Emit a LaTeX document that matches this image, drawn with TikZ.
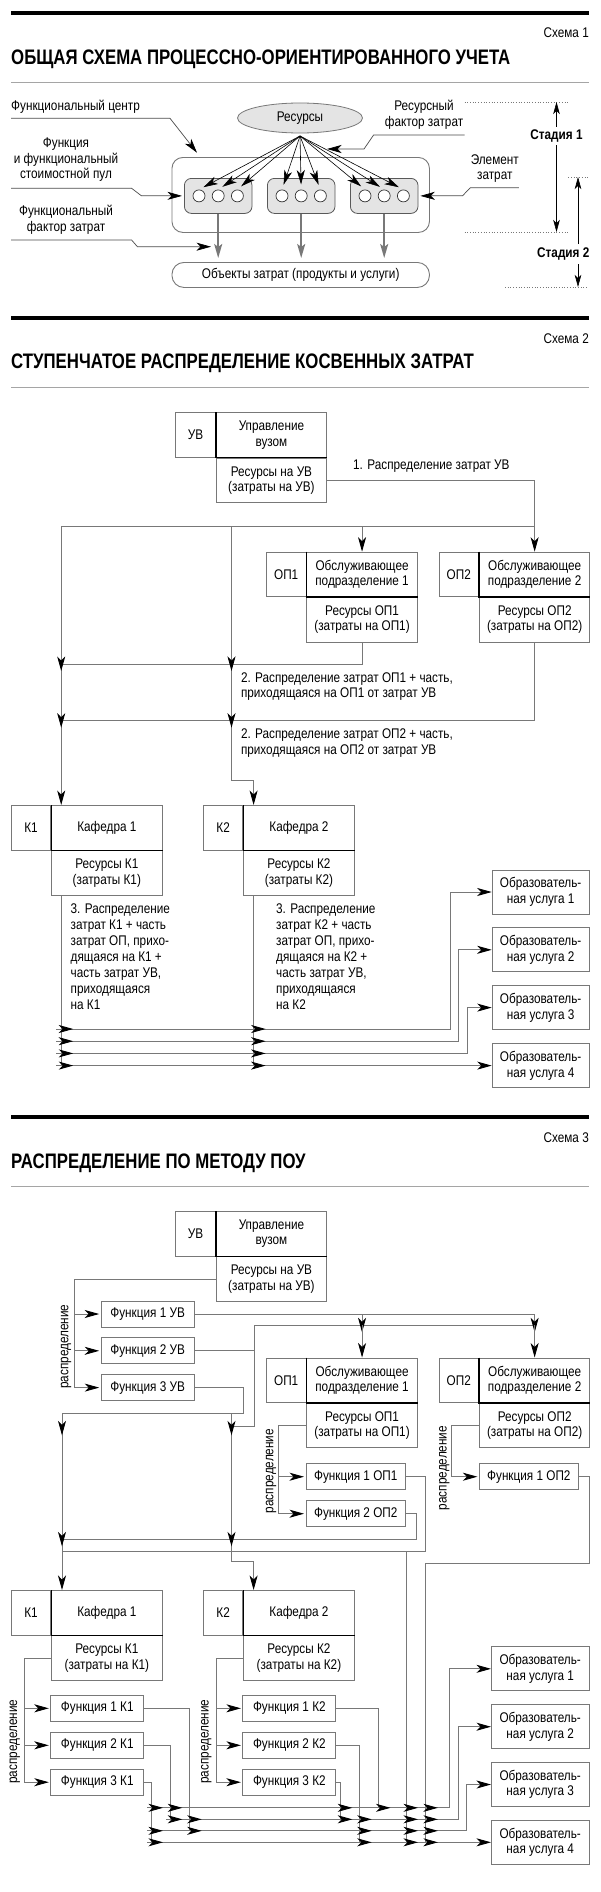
\documentclass[tikz,border=0pt]{standalone}
\usepackage{fontspec}
\setmainfont[FakeStretch=0.84]{Liberation Sans}
\newfontfamily\ttlfont[FakeStretch=0.8]{Liberation Sans}
\usetikzlibrary{positioning,arrows.meta,calc,shapes.geometric}
\definecolor{lngray}{RGB}{120,120,120}
\definecolor{poolgray}{RGB}{228,228,228}
\definecolor{rulegray}{RGB}{165,165,165}
\tikzset{
  txt/.style={inner sep=0pt, font=\fontsize{14}{15.5}\selectfont},
  ttl/.style={inner sep=0pt, anchor=west, font=\ttlfont\bfseries\fontsize{21}{24}\selectfont},
  cell/.style={draw=lngray, line width=0.9pt, inner sep=0pt, align=center, font=\fontsize{14}{15.5}\selectfont},
  code/.style={cell, minimum width=39.5pt, minimum height=44.5pt, anchor=north west},
  unit/.style={cell, minimum width=110.4pt, minimum height=44.5pt},
  func/.style={cell, minimum width=93pt, minimum height=26pt, anchor=west},
  serv/.style={cell, minimum width=97pt, minimum height=44pt, anchor=west},
  sep/.style={line width=1.4pt, black},
  wire/.style={draw=lngray, line width=0.9pt},
  arr/.style={wire, -{Stealth[length=14.5pt, width=8pt, inset=4pt, color=black]}},
  rot/.style={txt, rotate=90},
  pool/.style={draw=black!65, fill=poolgray, line width=0.8pt, rounded corners=7pt, minimum width=67.6pt, minimum height=35pt, inner sep=0pt},
  elem/.style={circle, draw=black!80, fill=white, line width=0.7pt, minimum size=12pt, inner sep=0pt},
  barr/.style={-{Stealth[length=14.5pt, width=8pt, inset=4pt]}, line width=0.6pt, black, shorten >=5pt},
  garr/.style={-{Stealth[length=14pt, width=8pt, inset=3pt]}, line width=1.8pt, lngray, shorten >=4pt},
  lead/.style={-{Stealth[length=14.5pt, width=8pt, inset=4pt, color=black]}, line width=0.7pt, draw=black!70},
  stg/.style={-{Stealth[length=12pt, width=6.5pt, inset=3pt]}, line width=0.6pt, black},
  dotln/.style={dotted, line width=0.7pt, lngray},
  hrule/.style={line width=4pt, black},
  srule/.style={line width=0.8pt, rulegray}
}

\begin{document}
\begin{tikzpicture}[x=1pt, y=-1pt]
    \fill[white] (0,0) rectangle (600,1892);
    \useasboundingbox (0,0) rectangle (600,1892);

    % ---------- scheme 1
    \draw[hrule] (11,13.5) -- (589,13.5);
    \node[txt, anchor=east] (sch1) at (589,33) {Схема 1};
    \node[ttl] (ttl1) at (11,59) {ОБЩАЯ СХЕМА ПРОЦЕССНО-ОРИЕНТИРОВАННОГО УЧЕТА};
    \draw[srule] (11,82) -- (589,82);

    \node[ellipse, draw=lngray, fill=poolgray, line width=0.8pt, minimum width=125pt, minimum height=30pt, txt] (res) at (300,118) {Ресурсы};
    \node[draw=lngray, line width=0.9pt, rounded corners=11pt, minimum width=257.5pt, minimum height=75pt, anchor=north west] (fc) at (171.5,157) {};
    \node[pool, anchor=north west] (p1) at (184,178) {};
    \node[pool, right=14.6pt of p1] (p2) {};
    \node[pool, right=14.6pt of p2] (p3) {};
    \foreach \p in {p1,p2,p3} {
      \node[elem] (\p b) at (\p) {};
      \node[elem, left=6.5pt of \p b] (\p a) {};
      \node[elem, right=6.5pt of \p b] (\p c) {};
    }
    \node[draw=lngray, line width=0.9pt, rounded corners=12pt, minimum width=257.5pt, minimum height=25pt, anchor=north west, txt] (obj) at (171.5,262) {Объекты затрат (продукты и услуги)};

    \coordinate (src) at (300,136);
    \foreach \p in {p1,p2,p3}
      \foreach \q in {a,b,c}
        \draw[barr] (src) -- (\p\q.north);
    \foreach \p in {p1,p2,p3}
      \draw[garr] (\p b |- \p.south) -- (\p b |- obj.north);

    \node[txt, anchor=west] (lfc) at (11,107) {Функциональный центр};
    \node[txt, align=center] (lfp) at (66,160) {Функция\\и функциональный\\стоимостной пул};
    \node[txt, align=center] (lff) at (66,220) {Функциональный\\фактор затрат};
    \node[txt, align=center] (lrf) at (424,115) {Ресурсный\\фактор затрат};
    \node[txt, align=center] (lel) at (494.8,168.5) {Элемент\\затрат};

    \coordinate (a1) at (11,118.3);
    \coordinate (a2) at (11,188.3);
    \coordinate (a3) at (11,240);
    \coordinate (a4) at (464.6,135);
    \coordinate (a5) at (518.8,187.7);
    \draw[lead] (a1) -- ++(159,0) -- ++(27,34.4);
    \draw[lead, shorten >=2pt] (a2) -- ++(120.6,0) -- ++(9.7,7.4) -- (p1.west);
    \draw[lead] (a3) -- ++(120.6,0) -- ++(5.8,6.7) -- ++(73.6,0);
    \draw[lead] (a4) -- ++(-91,0) -- ++(-9.6,14) -- ++(-37,0);
    \draw[lead, shorten >=2pt] (a5) -- ++(-48.4,0) -- ++(-7.8,8) -- (p3.east);

    \coordinate (d1) at (464.6,102);
    \coordinate (d2) at (464.6,232);
    \coordinate (d3) at (568.3,177);
    \coordinate (d4) at (505,287);
    \draw[dotln] (d1) -- ++(103.7,0);
    \draw[dotln] (d2) -- ++(103.7,0);
    \draw[dotln] (d3) -- ++(20.2,0);
    \draw[dotln] (d4) -- ++(83.5,0);
    \node[txt, font=\bfseries\fontsize{14}{15}\selectfont] (st1) at (556.5,136) {Стадия 1};
    \node[txt, font=\bfseries\fontsize{14}{15}\selectfont] (st2) at (563.3,254) {Стадия 2};
    \draw[stg, shorten <=3pt] (st1.north) -- (st1.north |- d1);
    \draw[stg, shorten <=3pt] (st1.south) -- (st1.south |- d2);
    \coordinate (s2x) at (578,254);
    \draw[stg] ($(s2x)+(0,-10)$) -- (s2x |- d3);
    \draw[stg] ($(s2x)+(0,10)$) -- (s2x |- d4);

    % ---------- scheme 2
    \draw[hrule] (11,318.3) -- (589,318.3);
    \node[txt, anchor=east] (sch2) at (589,338.3) {Схема 2};
    \node[ttl] (ttl2) at (11,363.3) {СТУПЕНЧАТОЕ РАСПРЕДЕЛЕНИЕ КОСВЕННЫХ ЗАТРАТ};
    \draw[srule] (11,387.3) -- (589,387.3);

    \node[code] (uv) at (175.4,412.3) {УВ};
    \node[unit, right=0pt of uv] (uvn) {Управление\\вузом};
    \node[unit, below=0pt of uvn] (uvr) {Ресурсы на УВ\\(затраты на УВ)};
    \node[code] (op1) at (266,551.7) {ОП1};
    \node[unit, right=0pt of op1] (op1n) {Обслуживающее\\подразделение 1};
    \node[unit, below=0pt of op1n] (op1r) {Ресурсы ОП1\\(затраты на ОП1)};
    \node[code] (op2) at (438.6,551.7) {ОП2};
    \node[unit, right=0pt of op2] (op2n) {Обслуживающее\\подразделение 2};
    \node[unit, below=0pt of op2n] (op2r) {Ресурсы ОП2\\(затраты на ОП2)};
    \node[code] (k1) at (10.8,805) {К1};
    \node[unit, right=0pt of k1] (k1n) {Кафедра 1};
    \node[unit, below=0pt of k1n] (k1r) {Ресурсы К1\\(затраты К1)};
    \node[code] (k2) at (202.9,805) {К2};
    \node[unit, right=0pt of k2] (k2n) {Кафедра 2};
    \node[unit, below=0pt of k2n] (k2r) {Ресурсы К2\\(затраты К2)};
    \foreach \n in {uvn,op1n,op2n,k1n,k2n}
      \draw[sep] (\n.north west) -- (\n.south west) -- (\n.south east);

    \draw[arr] (uvr.east) -| (op2n.north);
    \node[txt, anchor=west] (l1) at (353,465.7) {1. Распределение затрат УВ};
    \coordinate (h1) at (61.2,526.7);
    \coordinate (v2) at (231.5,526.7);
    \coordinate (h2) at (61.2,664);
    \coordinate (h3) at (61.2,720.7);
    \coordinate (k2j) at (253.6,780);
    \draw[wire] (h1) -- (h1 -| op2n.north);
    \draw[arr] (h1 -| op1n.north) -- (op1n.north);
    \draw[wire] (op1r.south) |- (h2);
    \draw[wire] (op2r.south) |- (h3);
    \draw[arr] (h1) -- (h1 |- k1n.north);
    \draw[arr] (v2) |- (k2j) -- (k2j |- k2n.north);
    \foreach \h in {h2,h3} {
      \draw[arr] ($(\h)+(0,-9)$) -- ++(0,16);
      \draw[arr] ($(v2 |- \h)+(0,-9)$) -- ++(0,16);
    }
    \node[txt, anchor=west, align=left] (l2) at (240.8,686.7) {2. Распределение затрат ОП1 + часть,\\приходящаяся на ОП1 от затрат УВ};
    \node[txt, anchor=west, align=left] (l3) at (240.8,743.3) {2. Распределение затрат ОП2 + часть,\\приходящаяся на ОП2 от затрат УВ};

    \node[serv] (ob1) at (491.7,892) {Образователь-\\ная услуга 1};
    \node[serv] (ob2) at (491.7,949.8) {Образователь-\\ная услуга 2};
    \node[serv] (ob3) at (491.7,1007.6) {Образователь-\\ная услуга 3};
    \node[serv] (ob4) at (491.7,1065.6) {Образователь-\\ная услуга 4};
    \coordinate (r1) at (61.2,1029);
    \coordinate (r2) at (61.2,1041.2);
    \coordinate (r3) at (61.2,1053.4);
    \coordinate (r4) at (61.2,1065.6);
    \coordinate (k2c) at (253.6,0);
    \draw[wire] (k1r.south -| r1) -- (r4);
    \draw[wire] (k2c |- k2r.south) -- (k2c |- r4);
    \draw[arr] (r1) -| ([xshift=-41.5pt]ob1.west) -- (ob1.west);
    \draw[arr] (r2) -| ([xshift=-33pt]ob2.west) -- (ob2.west);
    \draw[arr] (r3) -| ([xshift=-24.4pt]ob3.west) -- (ob3.west);
    \draw[arr] (r4) -- (ob4.west);
    \foreach \r in {r1,r2,r3,r4} {
      \draw[arr] ($(\r)+(-5,0)$) -- ++(17,0);
      \draw[arr] ($(\r -| k2c)+(-5,0)$) -- ++(17,0);
    }
    \node[txt, anchor=west, align=left, font=\fontsize{14}{15.9}\selectfont] (l4) at (70.5,956.7) {3. Распределение\\затрат К1 + часть\\затрат ОП, прихо-\\дящаяся на К1 +\\часть затрат УВ,\\приходящаяся\\на К1};
    \node[txt, anchor=west, align=left, font=\fontsize{14}{15.9}\selectfont] (l5) at (276,956.7) {3. Распределение\\затрат К2 + часть\\затрат ОП, прихо-\\дящаяся на К2 +\\часть затрат УВ,\\приходящаяся\\на К2};

    % ---------- scheme 3
    \draw[hrule] (11,1116.7) -- (589,1116.7);
    \node[txt, anchor=east] (sch3) at (589,1137.3) {Схема 3};
    \node[ttl] (ttl3) at (11,1163.3) {РАСПРЕДЕЛЕНИЕ ПО МЕТОДУ ПОУ};
    \draw[srule] (11,1186) -- (589,1186);

    \node[code] (uw) at (175.4,1211) {УВ};
    \node[unit, right=0pt of uw] (uwn) {Управление\\вузом};
    \node[unit, below=0pt of uwn] (uwr) {Ресурсы на УВ\\(затраты на УВ)};
    \node[code] (oq1) at (266,1357.5) {ОП1};
    \node[unit, right=0pt of oq1] (oq1n) {Обслуживающее\\подразделение 1};
    \node[unit, below=0pt of oq1n] (oq1r) {Ресурсы ОП1\\(затраты на ОП1)};
    \node[code] (oq2) at (438.6,1357.5) {ОП2};
    \node[unit, right=0pt of oq2] (oq2n) {Обслуживающее\\подразделение 2};
    \node[unit, below=0pt of oq2n] (oq2r) {Ресурсы ОП2\\(затраты на ОП2)};
    \node[code] (kq1) at (10.8,1590) {К1};
    \node[unit, right=0pt of kq1] (kq1n) {Кафедра 1};
    \node[unit, below=0pt of kq1n] (kq1r) {Ресурсы К1\\(затраты на К1)};
    \node[code] (kq2) at (202.9,1590) {К2};
    \node[unit, right=0pt of kq2] (kq2n) {Кафедра 2};
    \node[unit, below=0pt of kq2n] (kq2r) {Ресурсы К2\\(затраты на К2)};
    \foreach \n in {uwn,oq1n,oq2n,kq1n,kq2n}
      \draw[sep] (\n.north west) -- (\n.south west) -- (\n.south east);

    % functions of УВ
    \node[func] (fu1) at (100.7,1314) {Функция 1 УВ};
    \node[func] (fu2) at (100.7,1350.8) {Функция 2 УВ};
    \node[func] (fu3) at (100.7,1387.6) {Функция 3 УВ};
    \coordinate (du) at (74,1387.6);
    \draw[wire] (uwr.west) -| (du);
    \foreach \f in {fu1,fu2,fu3}
      \draw[arr, shorten >=1.5pt] (\f.west -| du) -- (\f.west);
    \node[rot] (dl1) at (66,1346.7) {распределение};

    \coordinate (tp2) at (254,1325.3);
    \coordinate (hz1) at (243,1413.3);
    \coordinate (hz2) at (254,1426.7);
    \coordinate (c1) at (62,1413.3);
    \coordinate (c2) at (231.5,1413.3);
    \draw[wire] (fu1.east) -- (fu1.east -| oq2n.north);
    \draw[wire] (fu2.east) -| (tp2) -- (tp2 -| oq2n.north);
    \draw[wire] (tp2) -- (hz2) -- (hz2 -| c2);
    \draw[wire] (fu3.east) -| (hz1) -- (c1);
    \foreach \o in {oq1n,oq2n} {
      \draw[arr] (fu1.east -| \o.north) -- ($(tp2 -| \o.north)+(0,7)$);
      \draw[arr] (tp2 -| \o.north) -- (\o.north);
    }

    % functions of ОП
    \node[func, minimum width=99.6pt] (fo1) at (305.5,1476.7) {Функция 1 ОП1};
    \node[func, minimum width=99.6pt] (fo2) at (305.5,1513.7) {Функция 2 ОП2};
    \node[func, minimum width=99pt] (fo3) at (478.9,1476.7) {Функция 1 ОП2};
    \coordinate (do1) at (278,1513.7);
    \coordinate (do2) at (451,1476.7);
    \draw[wire] (oq1r.west) -| (do1);
    \draw[arr, shorten >=1.5pt] (fo1.west -| do1) -- (fo1.west);
    \draw[arr, shorten >=1.5pt] (do1) -- (fo2.west);
    \draw[arr, shorten >=1.5pt] (oq2r.west) -| (do2) -- (fo3.west);
    \node[rot] (dl2) at (271,1471) {распределение};
    \node[rot] (dl3) at (444.4,1468) {распределение};

    \coordinate (y1) at (0,1807.8);
    \coordinate (y2) at (0,1819.3);
    \coordinate (y3) at (0,1830.8);
    \coordinate (y4) at (0,1842.3);
    \coordinate (hz3) at (416.2,1539.3);
    \coordinate (hz4) at (425.9,1551);
    \coordinate (hz5) at (589.2,1563.3);
    \draw[wire] (fo2.east) -| (hz3) -- (hz3 -| c1);
    \draw[wire] (fo1.east) -| (hz4) -- (hz4 -| c1);
    \draw[wire] (fo3.east) -| (hz5) -- (hz5 -| hz4) -- (hz4 |- y4);
    \draw[wire] (hz4 -| fo1.east) -- (fo1.east |- y4);

    % down to the departments
    \coordinate (k2q) at (253.6,1561.7);
    \draw[arr] (c1) -- (c1 |- kq1n.north);
    \draw[arr] (c2) |- (k2q) -- (k2q |- kq2n.north);
    \foreach \c in {c1,c2} {
      \draw[arr] ($(\c)+(0,6)$) -- ++(0,16);
      \draw[arr] ($(\c |- hz3)+(0,-9)$) -- ++(0,16);
    }

    % functions of К
    \node[func] (fk1) at (50.3,1708.3) {Функция 1 К1};
    \node[func] (fk2) at (50.3,1745.3) {Функция 2 К1};
    \node[func] (fk3) at (50.3,1782.2) {Функция 3 К1};
    \node[func] (fk4) at (242.4,1708.3) {Функция 1 К2};
    \node[func] (fk5) at (242.4,1745.3) {Функция 2 К2};
    \node[func] (fk6) at (242.4,1782.2) {Функция 3 К2};
    \coordinate (dk1) at (24.4,1782.2);
    \coordinate (dk2) at (216,1782.2);
    \draw[wire] (kq1r.west) -| (dk1);
    \draw[wire] (kq2r.west) -| (dk2);
    \foreach \f in {fk1,fk2,fk3}
      \draw[arr, shorten >=1.5pt] (\f.west -| dk1) -- (\f.west);
    \foreach \f in {fk4,fk5,fk6}
      \draw[arr, shorten >=1.5pt] (\f.west -| dk2) -- (\f.west);
    \node[rot] (dl4) at (14.7,1741.7) {распределение};
    \node[rot] (dl5) at (206.3,1741.7) {распределение};

    % services
    \node[serv, minimum width=97.5pt] (sv1) at (491,1668.8) {Образователь-\\ная услуга 1};
    \node[serv, minimum width=97.5pt] (sv2) at (491,1726.7) {Образователь-\\ная услуга 2};
    \node[serv, minimum width=97.5pt] (sv3) at (491,1784.5) {Образователь-\\ная услуга 3};
    \node[serv, minimum width=97.5pt] (sv4) at (491,1842.3) {Образователь-\\ная услуга 4};
    \coordinate (xa) at (151,0);
    \coordinate (xb) at (170.3,0);
    \coordinate (xc) at (189.7,0);
    \coordinate (xd) at (340.3,0);
    \coordinate (xe) at (359.7,0);
    \coordinate (xf) at (378.5,0);
    \draw[wire] (fk3.east) -| (xa |- y4);
    \draw[wire] (fk2.east) -| (xb |- y2);
    \draw[wire] (fk1.east) -| (xc |- y3);
    \draw[wire] (fk6.east) -| (xd |- y2);
    \draw[wire] (fk5.east) -| (xe |- y4);
    \draw[wire] (fk4.east) -| (xf |- y1);
    \draw[arr] (xa |- y1) -| ([xshift=-42pt]sv1.west) -- (sv1.west);
    \draw[arr] (xb |- y2) -| ([xshift=-33pt]sv2.west) -- (sv2.west);
    \draw[arr] (xa |- y3) -| ([xshift=-24.5pt]sv3.west) -- (sv3.west);
    \draw[arr] (xa |- y4) -- (sv4.west);
    \foreach \c/\r in {xa/y1,xa/y3,xa/y4,xb/y1,xb/y2,xc/y2,xc/y3,xd/y1,xd/y2,xe/y2,xe/y3,xe/y4,xf/y1,
                        fo1.east/y1,fo1.east/y2,fo1.east/y3,fo1.east/y4,hz4/y1,hz4/y2,hz4/y3,hz4/y4}
      \draw[arr] ($(\c |- \r)+(-4,0)$) -- ++(16,0);
  \end{tikzpicture}
\end{document}
